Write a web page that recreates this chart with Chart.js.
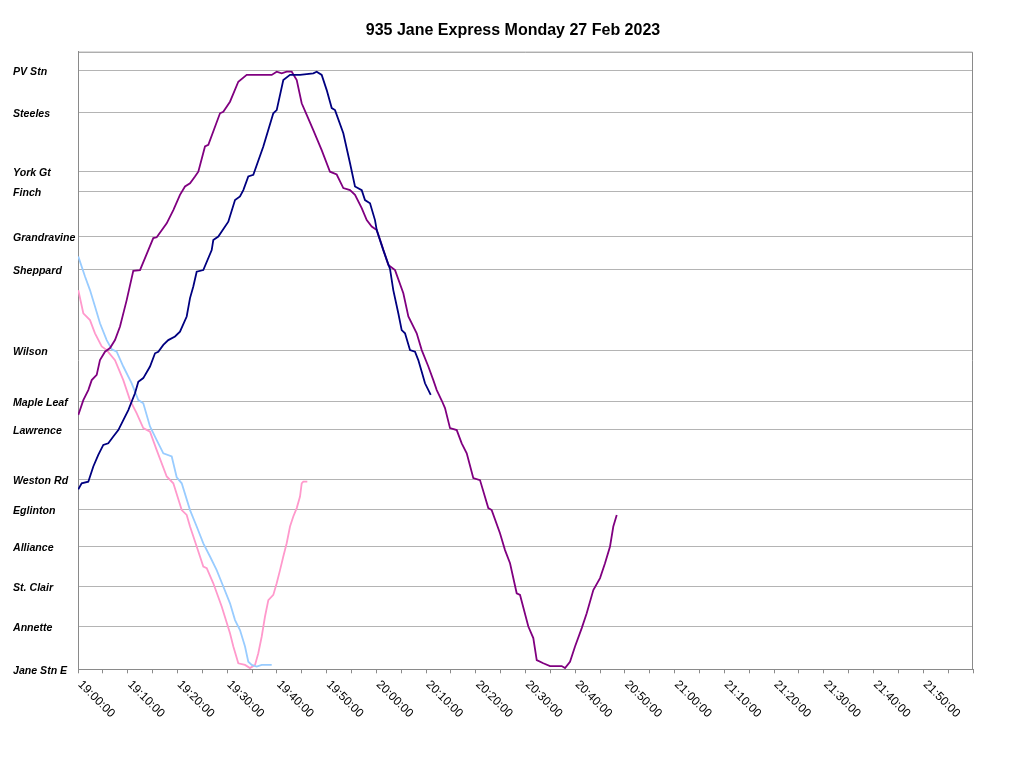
<!DOCTYPE html>
<html>
<head>
<meta charset="utf-8">
<script src="https://cdn.jsdelivr.net/npm/chart.js@4"></script>
<style>
  body { margin: 0; background: #fff; }
  canvas { display: block; }
</style>
</head>
<body>
<canvas id="busChart" width="1024" height="764"></canvas>
<script>
// stations, distance from Jane Stn E (approx km)
const stationNames = ["Jane Stn E", "Annette", "St. Clair", "Alliance", "Eglinton", "Weston Rd", "Lawrence",
  "Maple Leaf", "Wilson", "Sheppard", "Grandravine", "Finch", "York Gt", "Steeles", "PV Stn"];
const stationKm = [0, 1.06, 2.06, 3.07, 3.99, 4.75, 6.00, 6.70, 7.97, 9.99, 10.83, 11.94, 12.45, 13.92, 14.98];

// minutes after 19:00 and distance, one pair of arrays per bus
const navyMin = [0.06, 0.74, 2.07, 3.08, 4.08, 5.09, 6.09, 7.10, 8.11, 9.11, 10.12, 11.46, 12.13, 13.13, 14.48, 15.49,
  16.15, 17.16, 18.16, 19.51, 20.51, 21.86, 22.53, 23.19, 23.87, 25.20, 26.89, 27.21, 28.22, 30.23, 31.58, 32.58,
  33.25, 34.25, 35.26, 37.27, 39.28, 39.96, 41.29, 42.64, 44.65, 47.32, 48.01, 49.01, 50.02, 51.03, 51.69, 53.36,
  54.71, 55.71, 57.06, 57.72, 58.73, 59.73, 60.08, 61.40, 62.75, 63.41, 64.42, 65.10, 65.77, 66.77, 67.78, 68.44,
  69.13, 69.79, 70.94];
const navyKm = [4.50, 4.65, 4.69, 5.07, 5.36, 5.61, 5.65, 5.82, 5.98, 6.23, 6.48, 6.90, 7.19, 7.28, 7.57, 7.90,
  7.94, 8.11, 8.23, 8.32, 8.44, 8.82, 9.28, 9.57, 9.94, 9.98, 10.48, 10.73, 10.82, 11.19, 11.73, 11.82,
  11.98, 12.32, 12.36, 13.07, 13.90, 13.98, 14.73, 14.86, 14.86, 14.90, 14.94, 14.86, 14.48, 14.03, 13.98, 13.40,
  12.65, 12.07, 11.98, 11.73, 11.65, 11.23, 10.98, 10.48, 10.01, 9.48, 8.90, 8.48, 8.40, 7.98, 7.94, 7.73,
  7.44, 7.15, 6.86];

const purpleMin = [0.06, 1.07, 2.07, 2.76, 3.76, 4.42, 5.43, 6.44, 7.44, 8.45, 9.79, 11.12, 12.47, 14.14, 15.14, 15.83,
  17.84, 19.17, 20.51, 21.52, 22.53, 23.53, 24.20, 25.54, 26.21, 28.56, 29.22, 30.57, 32.24, 33.93, 38.96, 39.96,
  40.97, 41.97, 42.98, 43.99, 44.99, 46.00, 47.32, 49.01, 50.68, 52.03, 53.36, 54.71, 55.71, 57.06, 58.07, 59.07,
  60.08, 61.08, 62.41, 63.76, 65.43, 66.44, 68.12, 69.13, 70.46, 71.46, 72.15, 73.15, 73.81, 74.82, 76.17, 77.17,
  78.18, 79.50, 80.85, 82.52, 83.20, 84.87, 85.88, 86.89, 88.23, 88.90, 90.57, 91.57, 92.26, 93.58, 94.93, 97.28,
  97.95, 98.95, 99.96, 101.31, 102.31, 103.64, 104.99, 105.99, 107.00, 107.66, 108.35];
const purpleKm = [6.36, 6.73, 6.98, 7.23, 7.36, 7.73, 7.94, 8.03, 8.23, 8.57, 9.23, 9.96, 9.98, 10.48, 10.78, 10.80,
  11.15, 11.48, 11.86, 12.07, 12.15, 12.32, 12.44, 13.07, 13.11, 13.90, 13.94, 14.19, 14.69, 14.86, 14.86, 14.94,
  14.90, 14.94, 14.94, 14.73, 14.15, 13.86, 13.48, 12.98, 12.44, 12.37, 12.03, 11.98, 11.86, 11.53, 11.23, 11.07,
  10.98, 10.61, 10.11, 9.98, 9.40, 8.82, 8.40, 7.98, 7.57, 7.23, 6.98, 6.72, 6.53, 6.03, 5.98, 5.65,
  5.40, 4.78, 4.73, 4.03, 3.98, 3.40, 2.98, 2.65, 1.90, 1.86, 1.07, 0.78, 0.23, 0.15, 0.08, 0.08,
  0.03, 0.19, 0.57, 1.03, 1.40, 1.98, 2.28, 2.65, 3.07, 3.57, 3.86];

const lightBlueMin = [0.06, 1.41, 2.41, 3.42, 4.42, 5.77, 6.78, 7.78, 9.11, 10.80, 12.13, 13.13, 14.48, 15.83, 17.16,
  18.85, 19.85, 20.86, 22.53, 23.87, 25.20, 26.55, 27.89, 29.22, 30.57, 31.58, 32.58, 33.59, 34.25, 34.94, 35.94,
  36.95, 38.96];
const lightBlueKm = [10.32, 9.82, 9.48, 9.07, 8.65, 8.23, 8.00, 7.94, 7.57, 7.15, 6.73, 6.65, 6.07, 5.73, 5.40,
  5.32, 4.80, 4.65, 3.98, 3.57, 3.15, 2.82, 2.48, 2.07, 1.65, 1.23, 0.98, 0.57, 0.19, 0.11, 0.07,
  0.11, 0.11];

const pinkMin = [0.06, 1.07, 2.41, 3.42, 4.77, 5.77, 7.44, 9.11, 10.46, 11.81, 13.13, 14.48, 15.83, 17.84, 19.17,
  20.86, 21.86, 22.53, 23.87, 25.20, 25.89, 27.21, 28.90, 30.57, 31.24, 32.24, 33.59, 34.59, 35.60, 36.26, 36.95,
  37.61, 38.28, 39.28, 39.96, 40.63, 41.29, 41.97, 42.64, 43.30, 43.99, 44.65, 44.99, 45.31, 46.12];
const pinkKm = [9.48, 8.90, 8.73, 8.40, 8.07, 7.98, 7.73, 7.23, 6.73, 6.40, 6.03, 5.94, 5.48, 4.82, 4.65,
  3.98, 3.86, 3.57, 3.07, 2.57, 2.53, 2.15, 1.57, 0.90, 0.57, 0.15, 0.11, 0.03, 0.11, 0.40, 0.82,
  1.32, 1.73, 1.86, 2.15, 2.48, 2.82, 3.15, 3.57, 3.82, 4.03, 4.32, 4.65, 4.69, 4.69];

const xLabelMinutes = [0, 10, 20, 30, 40, 50, 60, 70, 80, 90, 100, 110, 120, 130, 140, 150, 160, 170];
const chartTitle = "935 Jane Express Monday 27 Feb 2023";

function toPoints(mins, kms) {
  return mins.map((m, i) => ({ x: m, y: kms[i] }));
}

function clockLabel(m) {
  const h = 19 + Math.floor(m / 60);
  const mm = m % 60;
  return h + ":" + String(mm).padStart(2, "0") + ":00";
}

// plot frame (top + right edges)
const framePlugin = {
  id: "frame",
  beforeDatasetsDraw(chart) {
    const a = chart.chartArea;
    const ctx = chart.ctx;
    ctx.save();
    ctx.strokeStyle = "#8a8a8a";
    ctx.lineWidth = 1;
    ctx.beginPath();
    ctx.moveTo(a.left, a.top + 0.5);
    ctx.lineTo(a.right - 0.5, a.top + 0.5);
    ctx.lineTo(a.right - 0.5, a.bottom);
    ctx.stroke();
    ctx.restore();
  }
};

// title centred on the whole page, slanted time labels below the axis
const textPlugin = {
  id: "texts",
  afterDraw(chart) {
    const xs = chart.scales.x;
    const ctx = chart.ctx;
    ctx.save();
    ctx.fillStyle = "#000";
    ctx.font = 'bold 16px "Liberation Sans", Arial, sans-serif';
    ctx.textAlign = "center";
    ctx.textBaseline = "middle";
    ctx.fillText(chartTitle, chart.width / 2 + 1, 30.5);

    ctx.font = '12px "Liberation Sans", Arial, sans-serif';
    ctx.textAlign = "left";
    ctx.textBaseline = "top";
    xLabelMinutes.forEach(m => {
      const px = xs.getPixelForValue(m);
      ctx.save();
      ctx.translate(px + 6, chart.chartArea.bottom + 9);
      ctx.rotate(Math.PI / 4);
      ctx.fillText(clockLabel(m), 0, 0);
      ctx.restore();
    });
    ctx.restore();
  }
};

const ctx = document.getElementById("busChart").getContext("2d");

new Chart(ctx, {
  type: "line",
  data: {
    datasets: [
      { label: "Bus A", data: toPoints(navyMin, navyKm), borderColor: "#000080" },
      { label: "Bus B", data: toPoints(purpleMin, purpleKm), borderColor: "#800080" },
      { label: "Bus C", data: toPoints(lightBlueMin, lightBlueKm), borderColor: "#99ccff" },
      { label: "Bus D", data: toPoints(pinkMin, pinkKm), borderColor: "#ff99cc" }
    ]
  },
  options: {
    responsive: false,
    animation: false,
    layout: { padding: { left: 13, right: 51, top: 51.7, bottom: 0 } },
    elements: {
      point: { radius: 0 },
      line: { borderWidth: 1.8, tension: 0, fill: false }
    },
    plugins: {
      legend: { display: false },
      tooltip: { enabled: false },
      title: { display: false }
    },
    scales: {
      x: {
        type: "linear",
        min: 0,
        max: 180,
        afterFit(scale) { scale.height = 94.7; },
        ticks: { display: false, stepSize: 5 },
        grid: { drawOnChartArea: false, drawTicks: true, tickLength: 4, color: "#8a8a8a" },
        border: { color: "#8a8a8a", width: 1 }
      },
      y: {
        type: "linear",
        min: 0,
        max: 15.44,
        afterFit(scale) { scale.width = 65; },
        afterBuildTicks(scale) {
          scale.ticks = stationKm.map(v => ({ value: v }));
        },
        ticks: {
          autoSkip: false,
          crossAlign: "far",
          labelOffset: 1.5,
          color: "#000",
          font: { family: '"Liberation Sans", Arial, sans-serif', size: 10.6, weight: "bold", style: "italic" },
          callback: (v, i) => stationNames[i]
        },
        grid: { color: "#b4b4b4", drawTicks: false, lineWidth: 1 },
        border: { color: "#8a8a8a", width: 1 }
      }
    }
  },
  plugins: [framePlugin, textPlugin]
});
</script>
</body>
</html>
